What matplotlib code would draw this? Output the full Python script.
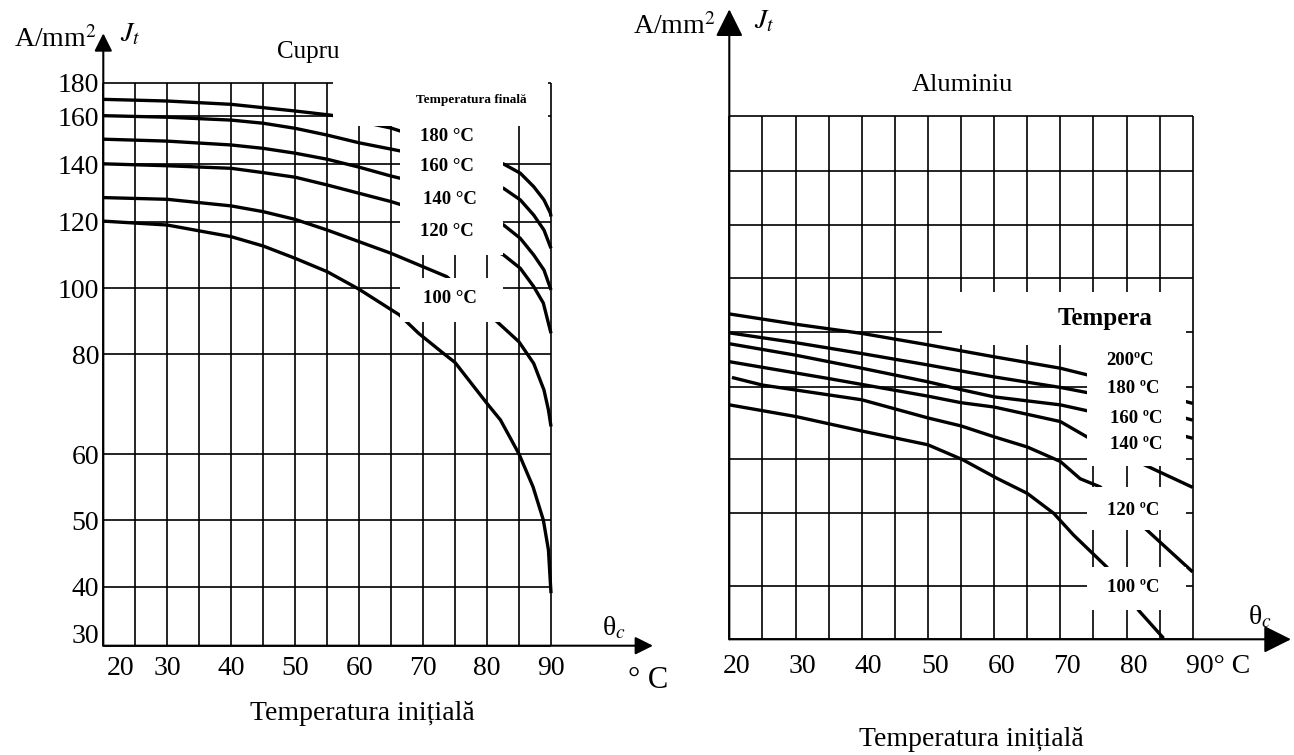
import numpy as np
import matplotlib
matplotlib.use("Agg")
import matplotlib.pyplot as plt
from matplotlib.patches import Rectangle

plt.rcParams['font.family'] = ['Liberation Serif', 'DejaVu Serif']
plt.rcParams['mathtext.fontset'] = 'stix'

W, H = 1294, 755

# ---- data -------------------------------------------------------------
temp_grid = [20, 25, 30, 35, 40, 45, 50, 55, 60, 65, 70, 75, 80, 85, 90]
temp_labels = [20, 30, 40, 50, 60, 70, 80, 90]

# copper: printed J grid (A/mm2) and the rows where the chart draws them
cu_j_ticks = [30, 40, 50, 60, 80, 100, 120, 140, 160, 180]
cu_j_rows = [645.7, 586.7, 520, 454, 354, 288.3, 221.7, 164.3, 116, 82.7]

cu_t1 = [20, 30, 40, 50, 55.6, 65, 82.6, 85.2, 87.3, 88.9, 89.9, 90]
cu_j1 = [170, 169, 167, 163, 160.5, 155, 140.1, 136.9, 132.2, 127.6, 123, 121.8]
cu_t2 = [20, 30, 40, 45, 50, 55, 60, 66.5, 82.6, 85.2, 87.3, 88.9, 90]
cu_j2 = [160.2, 159.5, 158.3, 157, 154.9, 152.1, 148.9, 145.5, 131.6, 127.6, 122.3, 117.5, 112]
cu_t3 = [20, 30, 40, 45, 50, 55, 60, 65, 67.6, 82.6, 85.2, 87.3, 88.9, 90]
cu_j3 = [150.4, 149.6, 148, 146.6, 144.6, 142.1, 139, 135.9, 134.5, 119, 115, 110, 105.5, 99.5]
cu_t4 = [20, 30, 40, 45, 50, 55, 60, 65, 67.6, 82.6, 85.2, 87.3, 88.8, 90]
cu_j4 = [140.2, 139.5, 138.6, 137.1, 135.5, 132.8, 129.9, 127, 125.2, 110, 106, 100.5, 95.5, 86.3]
cu_t5 = [20, 30, 40, 45, 50, 55, 60, 65, 73.7, 81.8, 85, 87.3, 88.9, 89.6, 90]
cu_j5 = [128.4, 127.8, 125.5, 123.5, 120.8, 117.5, 114, 110.5, 103.5, 89.4, 83.7, 78.1, 72.8, 68.8, 65.5]
cu_t6 = [20, 30, 40, 45, 50, 55, 60, 65, 66.3, 69.3, 73.3, 75, 80, 82.1, 85, 87.2, 88.8, 89.6, 90]
cu_j6 = [120.2, 119, 115.5, 112.7, 109, 105, 99.7, 93.5, 91.9, 86.3, 80, 78.3, 70.1, 66.8, 60, 55, 50, 45.5, 38.9]

cu_labels = ["180 °C", "160 °C", "140 °C", "120 °C", "100 °C"]
cu_label_t = [73.7, 73.7, 74.2, 73.7, 74.2]
cu_label_j = [151.4, 139.4, 127.6, 117.0, 97.0]

# aluminium: unlabelled grid, nominal values for its rows
al_j_grid = [30, 40, 50, 60, 70, 80, 90, 100, 110, 120]
al_j_rows = [639.3, 585.7, 513.3, 459.3, 386.7, 332.3, 278.3, 225, 170.7, 116]

al_t1 = [20, 30, 40, 50, 60, 70, 74, 90]
al_j1 = [83.4, 81.5, 79.8, 77.7, 75.5, 73.4, 72.2, 67.7]
al_t2 = [20, 30, 40, 50, 60, 70, 74, 90]
al_j2 = [79.9, 78.1, 76.1, 74.0, 71.8, 69.9, 69.2, 65.4]
al_t3 = [20, 30, 40, 50, 55, 60, 70, 74, 90]
al_j3 = [77.9, 75.8, 73.4, 70.9, 69.6, 68.6, 67.5, 66.7, 62.9]
al_t4 = [20, 35, 50, 55, 60, 70, 74, 83, 90]
al_j4 = [74.6, 71.5, 68.7, 67.8, 67.2, 65.2, 63.1, 58.8, 54.8]
al_t5 = [20.4, 25, 40, 50, 55, 60, 65, 70, 73, 76, 83.3, 90]
al_j5 = [71.7, 70.3, 68.2, 65.7, 64.6, 63.1, 61.7, 59.6, 56.4, 54.9, 47.5, 41.9]
al_t6 = [20, 30, 40, 50, 55.3, 60.4, 65, 69, 72, 77, 81.9, 85.6]
al_j6 = [67.5, 65.9, 63.9, 62.0, 59.9, 56.5, 53.7, 50, 47, 42.6, 35.3, 30.2]

al_labels = ["200ºC", "180 ºC", "160 ºC", "140 ºC", "120 ºC", "100 ºC"]
al_label_t = [80.5, 81.0, 81.5, 81.5, 81.0, 81.0]
al_label_j = [74.9, 69.8, 65.6, 62.0, 50.6, 39.6]


# ---- helpers ----------------------------------------------------------
def _lin(x, xs, ys):
    x = np.asarray(x, float)
    out = np.interp(x, xs, ys)
    lo = (ys[1] - ys[0]) / (xs[1] - xs[0])
    hi = (ys[-1] - ys[-2]) / (xs[-1] - xs[-2])
    out = np.where(x < xs[0], ys[0] + (x - xs[0]) * lo, out)
    out = np.where(x > xs[-1], ys[-1] + (x - xs[-1]) * hi, out)
    return out


def grid_scale(vals, rows):
    # the printed J axis is hand spaced, so map it piecewise
    v = np.asarray(vals, float)
    p = -np.asarray(rows, float)
    return (lambda x: _lin(x, v, p)), (lambda y: _lin(y, p, v))


def px_box(x0, y0, x1, y1):
    return [x0 / W, 1 - y1 / H, (x1 - x0) / W, (y1 - y0) / H]


def ftext(x, y, s, **kw):
    fig.text(x / W, 1 - y / H, s, **kw)


def mask(ax, t0, t1, j0, j1):
    ax.add_patch(Rectangle((t0, j0), t1 - t0, j1 - j0, facecolor='white',
                           edgecolor='none', zorder=3, clip_on=False))


def axis_arrows(ax, top, right, head):
    style = dict(arrowstyle=head[0], mutation_scale=head[1], lw=1.5, color='k',
                 shrinkA=0, shrinkB=0)
    ax.annotate('', xy=(0, top), xytext=(0, 0), xycoords='axes fraction',
                arrowprops=style, annotation_clip=False, zorder=5)
    ax.annotate('', xy=(right, 0), xytext=(0, 0), xycoords='axes fraction',
                arrowprops=style, annotation_clip=False, zorder=5)


def setup(ax, ticks, rows):
    ax.set_yscale('function', functions=grid_scale(ticks, rows))
    ax.set_xlim(20, 90)
    ax.set_ylim(ticks[0], ticks[-1])
    ax.axis('off')
    ax.vlines(temp_grid, ticks[0], ticks[-1], color='k', lw=1.2, zorder=1, clip_on=False)
    ax.hlines(ticks, 20, 90, color='k', lw=1.2, zorder=1, clip_on=False)


def curves(ax, series):
    for t, j in series:
        ax.plot(t, j, color='k', lw=2.4, zorder=2, clip_on=False,
                solid_joinstyle='round', solid_capstyle='butt')


fig = plt.figure(figsize=(W / 100, H / 100), dpi=100, facecolor='white')

# ---- Cupru ------------------------------------------------------------
ax = fig.add_axes(px_box(103.3, 82.7, 551, 645.7))
setup(ax, cu_j_ticks, cu_j_rows)
curves(ax, [(cu_t1, cu_j1), (cu_t2, cu_j2), (cu_t3, cu_j3),
            (cu_t4, cu_j4), (cu_t5, cu_j5), (cu_t6, cu_j6)])

mask(ax, 55.9, 89.6, 155.9, 182)
mask(ax, 66.4, 82.55, 110.0, 155.9)
mask(ax, 66.4, 82.55, 89.7, 103.1)
ax.text(77.5, 169.6, "Temperatura finală", ha='center', va='center',
        fontsize=9.5, fontweight='bold', zorder=4)
for s, t, j in zip(cu_labels, cu_label_t, cu_label_j):
    ax.text(t, j, s, ha='center', va='center', fontsize=13.5, fontweight='bold', zorder=4)

for v in cu_j_ticks:
    ax.annotate(str(v), xy=(0, v), xycoords=('axes fraction', 'data'),
                xytext=(-4, -3), textcoords='offset pixels', ha='right',
                va='bottom' if v == 30 else 'center', fontsize=20)
for v in temp_labels:
    first = v == temp_labels[0]
    ax.annotate(str(v), xy=(v, 0), xycoords=('data', 'axes fraction'),
                xytext=(3 if first else 0, -23), textcoords='offset pixels',
                ha='left' if first else 'center', va='center', fontsize=20)

axis_arrows(ax, 1.0877, 1.2278, ('-|>,head_length=0.4,head_width=0.2', 27))

ftext(97, 47, "A/mm$^2$", ha='right', va='baseline', fontsize=20)
ftext(130, 35, "$J_t$", ha='center', va='center', fontsize=20)
ftext(308, 52, "Cupru", ha='center', va='center', fontsize=18)
ftext(614, 628, "θ$_c$", ha='center', va='center', fontsize=20)
ftext(648, 680, "° C", ha='center', va='center', fontsize=22)
ftext(362, 713, "Temperatura inițială", ha='center', va='center', fontsize=20)

# ---- Aluminiu ---------------------------------------------------------
ax = fig.add_axes(px_box(729.3, 116, 1192.7, 639.3))
setup(ax, al_j_grid, al_j_rows)
curves(ax, [(al_t1, al_j1), (al_t2, al_j2), (al_t3, al_j3),
            (al_t4, al_j4), (al_t5, al_j5), (al_t6, al_j6)])

mask(ax, 52.2, 89.0, 77.6, 87.5)
mask(ax, 74.05, 89.0, 58.8, 77.6)
mask(ax, 74.05, 89.0, 47.7, 54.9)
mask(ax, 74.05, 89.0, 35.5, 42.6)
ax.text(76.75, 82.6, "Tempera", ha='center', va='center', fontsize=18,
        fontweight='bold', zorder=4)
for s, t, j in zip(al_labels, al_label_t, al_label_j):
    ax.text(t, j, s, ha='center', va='center', fontsize=13.5, fontweight='bold', zorder=4)

for v in temp_labels:
    last = v == temp_labels[-1]
    ax.annotate(f"{v}° C" if last else str(v), xy=(v, 0),
                xycoords=('data', 'axes fraction'),
                xytext=(-7 if last else 7, -27), textcoords='offset pixels',
                ha='left' if last else 'center', va='center', fontsize=20)

axis_arrows(ax, 1.2039, 1.2121, ('-|>,head_length=0.6,head_width=0.3', 28))

ftext(716, 34, "A/mm$^2$", ha='right', va='baseline', fontsize=20)
ftext(764, 22, "$J_t$", ha='center', va='center', fontsize=20)
ftext(962, 85, "Aluminiu", ha='center', va='center', fontsize=19)
ftext(1260, 617, "θ$_c$", ha='center', va='center', fontsize=20)
ftext(971, 740, "Temperatura inițială", ha='center', va='center', fontsize=20)

fig.savefig("out.png", dpi=100, facecolor='white')
